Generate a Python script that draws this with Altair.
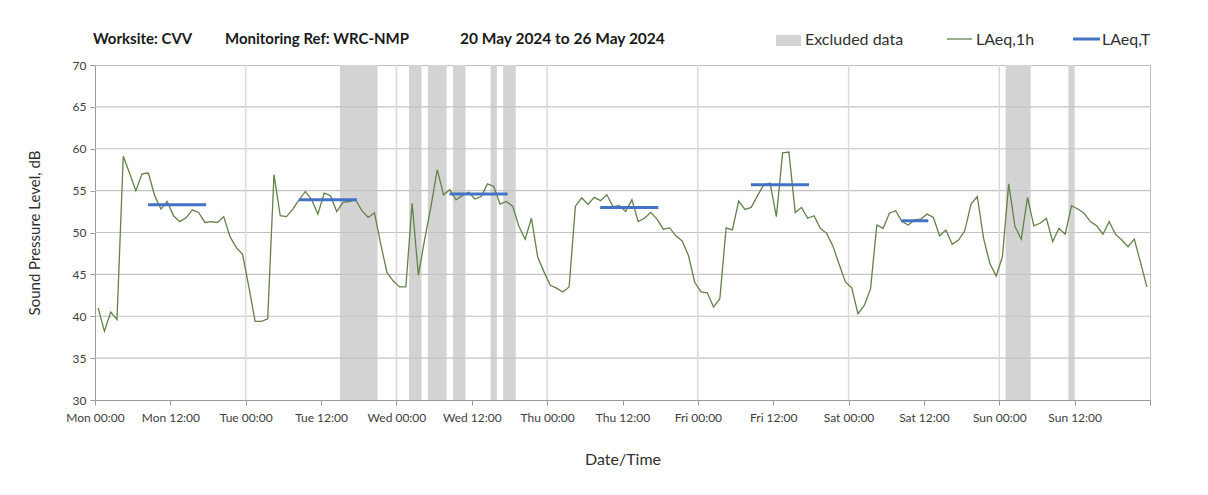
import altair as alt
import pandas as pd

FONT = "Lato"

# ---------------- data ----------------
DAY_NAMES = ["Mon", "Tue", "Wed", "Thu", "Fri", "Sat", "Sun"]

LAEQ_1H = [
    41.0, 38.2, 40.5, 39.6, 59.1, 57.1, 55.0, 57.0, 57.1, 54.4, 52.8, 53.7,
    52.0, 51.3, 51.75, 52.7, 52.4, 51.2, 51.3, 51.2, 51.9, 49.5, 48.2, 47.4,
    43.5, 39.4, 39.4, 39.7, 56.9, 52.0, 51.9, 52.8, 53.9, 54.9, 53.9, 52.2,
    54.7, 54.4, 52.5, 53.6, 53.7, 53.9, 52.6, 51.8, 52.35, 48.6, 45.2, 44.2,
    43.5, 43.5, 53.5, 44.9, 49.2, 53.1, 57.5, 54.5, 55.1, 53.9, 54.4, 54.8,
    54.0, 54.3, 55.8, 55.5, 53.4, 53.7, 53.15, 50.75, 49.2, 51.7, 47.05, 45.3,
    43.7, 43.35, 42.9, 43.5, 53.15, 54.15, 53.35, 54.2, 53.8, 54.5, 53.1, 53.2,
    52.5, 53.9, 51.3, 51.7, 52.4, 51.6, 50.4, 50.55, 49.6, 49.0, 47.25, 44.06,
    42.9, 42.8, 41.1, 42.1, 50.55, 50.3, 53.75, 52.75, 53.0, 54.4, 55.7, 55.9,
    51.9, 59.5, 59.6, 52.4, 53.0, 51.7, 52.0, 50.5, 49.9, 48.4, 46.2, 44.1,
    43.4, 40.3, 41.3, 43.3, 50.9, 50.5, 52.3, 52.6, 51.3, 50.9, 51.5, 51.6,
    52.2, 51.8, 49.6, 50.3, 48.6, 49.1, 50.2, 53.4, 54.3, 49.3, 46.3, 44.8,
    47.1, 55.8, 50.7, 49.2, 54.2, 50.8, 51.1, 51.7, 48.9, 50.5, 49.8, 53.2,
    52.8, 52.3, 51.3, 50.8, 49.8, 51.3, 49.8, 49.1, 48.3, 49.2, 46.4, 43.5,
]
HOUR_MID = [h + 0.5 for h in range(len(LAEQ_1H))]  # hourly periods, plotted mid-hour

EXCL_START = [39, 50, 53, 57, 63, 65, 145, 155]
EXCL_END = [45, 52, 56, 59, 64, 67, 149, 156]

T_START = [8.45, 32.45, 56.45, 80.45, 104.45, 128.45]
T_END = [17.7, 41.7, 65.7, 89.7, 113.7, 132.7]
T_VALUE = [53.3, 53.9, 54.6, 53.0, 55.7, 51.4]

X_TICKS = list(range(0, 169, 12))
Y_TICKS = [30, 35, 40, 45, 50, 55, 60, 65, 70]
Y_GRID = [35, 40, 45, 50, 55, 60, 65]
DAY_GRID = [24, 48, 72, 96, 120, 144]

line_df = pd.DataFrame({"hour": HOUR_MID, "laeq": LAEQ_1H})
excl_df = pd.DataFrame({"start": EXCL_START, "end": EXCL_END})
t_df = pd.DataFrame({"start": T_START, "end": T_END, "laeq": T_VALUE})
ygrid_df = pd.DataFrame({"y": Y_GRID})
xgrid_df = pd.DataFrame({"x": DAY_GRID})
one = pd.DataFrame({"a": [0]})

W, H = 1055, 335

xscale = alt.Scale(domain=[0, 168], nice=False, zero=False)
yscale = alt.Scale(domain=[30, 70], nice=False, zero=False)

day_arr = "[" + ",".join("'%s'" % d for d in DAY_NAMES) + "]"
xaxis = alt.Axis(
    values=X_TICKS,
    labelExpr=f"datum.value >= 168 ? '' : {day_arr}[floor(datum.value/24)] + (datum.value % 24 == 0 ? ' 00:00' : ' 12:00')",
    grid=False,
    tickSize=5,
    tickColor="#9a9a9a",
    domainColor="#9a9a9a",
    labelFont=FONT,
    labelFontSize=12,
    labelColor="#404040",
    labelPadding=7,
    labelOverlap=False,
    labelFlush=False,
    title="Date/Time",
    titleFont=FONT,
    titleFontSize=16,
    titleFontWeight="normal",
    titleColor="#303030",
    titlePadding=28,
)
yaxis = alt.Axis(
    values=Y_TICKS,
    grid=False,
    tickSize=5,
    tickColor="#9a9a9a",
    domainColor="#9a9a9a",
    labelFont=FONT,
    labelFontSize=12,
    labelColor="#404040",
    labelPadding=4,
    labelFlush=False,
    title="Sound Pressure Level, dB",
    titleFont=FONT,
    titleFontSize=15,
    titleFontWeight="normal",
    titleColor="#303030",
    titlePadding=30,
)

bands = alt.Chart(excl_df).mark_rect(color="#d3d3d3").encode(
    x=alt.X("start:Q", scale=xscale, axis=xaxis),
    x2="end:Q",
    y=alt.Y(datum=30, scale=yscale, axis=yaxis),
    y2=alt.datum(70),
)

hgrid = alt.Chart(ygrid_df).mark_rule(color="#c3c3c3", strokeWidth=1.2).encode(
    y=alt.Y("y:Q", scale=yscale, axis=yaxis),
)

vgrid = alt.Chart(xgrid_df).mark_rule(color="#dadada", strokeWidth=1.5).encode(
    x=alt.X("x:Q", scale=xscale, axis=xaxis),
)

line = alt.Chart(line_df).mark_line(color="#62824a", strokeWidth=1.3).encode(
    x=alt.X("hour:Q", scale=xscale, axis=xaxis),
    y=alt.Y("laeq:Q", scale=yscale, axis=yaxis),
)

tline = alt.Chart(t_df).mark_rule(color="#4472c4", strokeWidth=3).encode(
    x=alt.X("start:Q", scale=xscale, axis=xaxis),
    x2="end:Q",
    y=alt.Y("laeq:Q", scale=yscale, axis=yaxis),
)

# ---- header: title pieces ----
def txt(s, x, y, size, weight="normal", color="#1a1a1a"):
    return alt.Chart(one).mark_text(
        align="left", baseline="alphabetic", font=FONT, fontSize=size,
        fontWeight=weight, color=color,
    ).encode(x=alt.value(x), y=alt.value(y), text=alt.value(s))

title1 = txt("Worksite: CVV", -2, -21, 15, "bold")
title2 = txt("Monitoring Ref: WRC-NMP", 130, -21, 15, "bold")
title3 = txt("20 May 2024 to 26 May 2024", 365, -21, 15.5, "bold")

# ---- legend ----
leg_rect = alt.Chart(one).mark_rect(color="#d3d3d3").encode(
    x=alt.value(681), x2=alt.value(706), y=alt.value(-30), y2=alt.value(-19)
)
leg_green = alt.Chart(one).mark_rule(color="#62824a", strokeWidth=1.3).encode(
    x=alt.value(852), x2=alt.value(877), y=alt.value(-26)
)
leg_blue = alt.Chart(one).mark_rule(color="#4472c4", strokeWidth=3).encode(
    x=alt.value(978), x2=alt.value(1005), y=alt.value(-26)
)
leg_t1 = txt("Excluded data", 710, -20, 16, color="#303030")
leg_t2 = txt("LAeq,1h", 881, -20, 16, color="#303030")
leg_t3 = txt("LAeq,T", 1007, -20, 16, color="#303030")

chart = alt.layer(
    bands, hgrid, vgrid, line, tline,
    title1, title2, title3,
    leg_rect, leg_green, leg_blue, leg_t1, leg_t2, leg_t3,
).properties(
    width=W,
    height=H,
    padding={"left": 87, "top": 57, "right": 50, "bottom": 85},
    autosize=alt.AutoSizeParams(type="none"),
    background="white",
).configure_view(
    stroke="#c0c0c0", strokeWidth=1
)

chart.save("out.html", embed_options={"renderer": "svg", "actions": False})
